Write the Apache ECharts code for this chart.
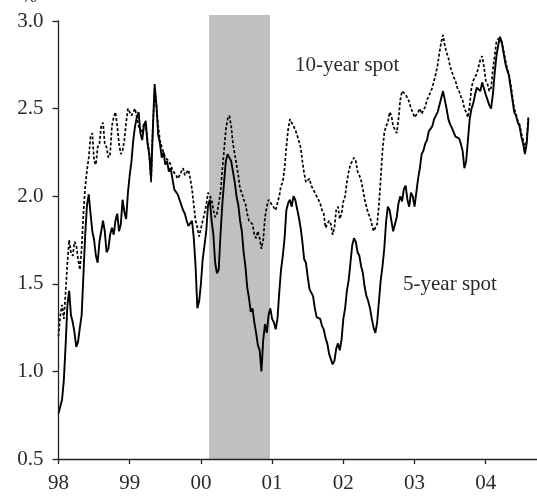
<!DOCTYPE html>
<html>
<head>
<meta charset="utf-8">
<script src="https://cdn.jsdelivr.net/npm/echarts@6/dist/echarts.min.js"></script>
<style>
html,body{margin:0;padding:0;background:#fff;}
#c{width:537px;height:499px;}
</style>
</head>
<body>
<div id="c"></div>
<script>
// Decimal-year dates of the observations
const dates = [
1998.000,1998.025,1998.050,1998.075,1998.100,1998.125,1998.150,1998.175,
1998.200,1998.225,1998.250,1998.275,1998.300,1998.325,1998.350,1998.375,
1998.400,1998.425,1998.450,1998.475,1998.500,1998.525,1998.550,1998.575,
1998.600,1998.625,1998.650,1998.675,1998.700,1998.725,1998.750,1998.775,
1998.800,1998.825,1998.850,1998.875,1998.900,1998.925,1998.950,1998.975,
1999.000,1999.025,1999.050,1999.075,1999.100,1999.125,1999.150,1999.175,
1999.200,1999.225,1999.250,1999.275,1999.300,1999.325,1999.350,1999.375,
1999.400,1999.425,1999.450,1999.475,1999.500,1999.525,1999.550,1999.575,
1999.600,1999.625,1999.650,1999.675,1999.700,1999.725,1999.750,1999.775,
1999.800,1999.825,1999.850,1999.875,1999.900,1999.925,1999.950,1999.975,
2000.000,2000.025,2000.050,2000.075,2000.100,2000.125,2000.150,2000.175,
2000.200,2000.225,2000.250,2000.275,2000.300,2000.325,2000.350,2000.375,
2000.400,2000.425,2000.450,2000.475,2000.500,2000.525,2000.550,2000.575,
2000.600,2000.625,2000.650,2000.675,2000.700,2000.725,2000.750,2000.775,
2000.800,2000.825,2000.850,2000.875,2000.900,2000.925,2000.950,2000.975,
2001.000,2001.025,2001.050,2001.075,2001.100,2001.125,2001.150,2001.175,
2001.200,2001.225,2001.250,2001.275,2001.300,2001.325,2001.350,2001.375,
2001.400,2001.425,2001.450,2001.475,2001.500,2001.525,2001.550,2001.575,
2001.600,2001.625,2001.650,2001.675,2001.700,2001.725,2001.750,2001.775,
2001.800,2001.825,2001.850,2001.875,2001.900,2001.925,2001.950,2001.975,
2002.000,2002.025,2002.050,2002.075,2002.100,2002.125,2002.150,2002.175,
2002.200,2002.225,2002.250,2002.275,2002.300,2002.325,2002.350,2002.375,
2002.400,2002.425,2002.450,2002.475,2002.500,2002.525,2002.550,2002.575,
2002.600,2002.625,2002.650,2002.675,2002.700,2002.725,2002.750,2002.775,
2002.800,2002.825,2002.850,2002.875,2002.900,2002.925,2002.950,2002.975,
2003.000,2003.025,2003.050,2003.075,2003.100,2003.125,2003.150,2003.175,
2003.200,2003.225,2003.250,2003.275,2003.300,2003.325,2003.350,2003.375,
2003.400,2003.425,2003.450,2003.475,2003.500,2003.525,2003.550,2003.575,
2003.600,2003.625,2003.650,2003.675,2003.700,2003.725,2003.750,2003.775,
2003.800,2003.825,2003.850,2003.875,2003.900,2003.925,2003.950,2003.975,
2004.000,2004.025,2004.050,2004.075,2004.100,2004.125,2004.150,2004.175,
2004.200,2004.225,2004.250,2004.275,2004.300,2004.325,2004.350,2004.375,
2004.400,2004.425,2004.450,2004.475,2004.500,2004.525,2004.550,2004.575,
2004.600
];
// 5-year spot (solid), %
const spot5 = [
0.76,0.80,0.84,0.95,1.15,1.38,1.46,1.32,
1.28,1.22,1.14,1.17,1.25,1.32,1.55,1.78,
1.95,2.01,1.90,1.80,1.75,1.66,1.62,1.74,
1.80,1.86,1.80,1.68,1.70,1.78,1.82,1.78,
1.86,1.90,1.80,1.84,1.98,1.91,1.87,2.02,
2.12,2.20,2.32,2.40,2.45,2.48,2.36,2.32,
2.40,2.43,2.30,2.24,2.10,2.38,2.64,2.52,
2.35,2.30,2.22,2.25,2.18,2.20,2.14,2.16,
2.10,2.04,2.03,2.01,1.98,1.97,1.92,1.90,
1.86,1.83,1.84,1.86,1.76,1.60,1.36,1.40,
1.50,1.64,1.72,1.80,1.95,1.98,1.86,1.78,
1.62,1.56,1.58,1.78,1.95,2.08,2.20,2.24,
2.22,2.20,2.14,2.08,2.00,1.95,1.86,1.80,
1.68,1.60,1.48,1.42,1.34,1.36,1.28,1.22,
1.15,1.12,1.00,1.18,1.27,1.22,1.32,1.36,
1.30,1.28,1.24,1.30,1.45,1.58,1.66,1.76,
1.92,1.96,1.98,1.94,2.00,1.98,1.93,1.88,
1.82,1.74,1.64,1.62,1.54,1.47,1.45,1.43,
1.36,1.31,1.30,1.30,1.26,1.24,1.19,1.16,
1.10,1.09,1.04,1.06,1.13,1.16,1.12,1.18,
1.30,1.36,1.46,1.52,1.62,1.72,1.76,1.74,
1.68,1.66,1.60,1.56,1.48,1.43,1.40,1.36,
1.30,1.25,1.22,1.28,1.40,1.52,1.60,1.70,
1.85,1.94,1.92,1.86,1.80,1.80,1.88,1.96,
2.00,1.97,2.04,2.06,1.98,1.94,2.02,2.00,
1.94,2.02,2.10,2.16,2.24,2.26,2.30,2.32,
2.37,2.36,2.40,2.44,2.46,2.48,2.52,2.56,
2.60,2.55,2.50,2.44,2.41,2.39,2.38,2.34,
2.35,2.33,2.30,2.26,2.16,2.20,2.32,2.44,
2.50,2.53,2.58,2.62,2.63,2.60,2.65,2.64,
2.58,2.55,2.52,2.50,2.58,2.70,2.80,2.86,
2.91,2.88,2.82,2.76,2.72,2.69,2.62,2.55,
2.48,2.46,2.42,2.40,2.34,2.30,2.24,2.30,
2.44
];
// 10-year spot (dashed), %
const spot10 = [
1.20,1.32,1.38,1.30,1.45,1.62,1.75,1.68,
1.66,1.74,1.72,1.64,1.58,1.70,1.90,2.05,
2.15,2.22,2.34,2.36,2.20,2.18,2.28,2.30,
2.40,2.42,2.30,2.28,2.22,2.24,2.40,2.45,
2.48,2.40,2.30,2.24,2.26,2.32,2.42,2.50,
2.50,2.46,2.48,2.50,2.45,2.40,2.38,2.36,
2.42,2.40,2.32,2.24,2.08,2.40,2.60,2.52,
2.40,2.32,2.28,2.25,2.22,2.23,2.20,2.18,
2.15,2.16,2.12,2.10,2.10,2.14,2.16,2.12,
2.13,2.15,2.10,2.04,1.95,1.86,1.82,1.77,
1.78,1.86,1.90,1.95,2.02,2.03,1.98,1.92,
1.88,1.90,1.96,2.02,2.15,2.26,2.38,2.44,
2.46,2.40,2.30,2.24,2.18,2.12,2.04,2.02,
1.98,1.96,1.90,1.86,1.86,1.84,1.78,1.76,
1.80,1.76,1.70,1.75,1.88,1.94,1.98,1.98,
1.95,1.96,1.92,1.92,2.00,2.06,2.08,2.16,
2.28,2.38,2.44,2.44,2.40,2.38,2.35,2.34,
2.28,2.20,2.13,2.08,2.07,2.10,2.06,2.04,
2.02,2.03,1.98,1.96,1.92,1.90,1.82,1.83,
1.86,1.84,1.78,1.82,1.92,1.94,1.87,1.90,
1.97,2.00,2.08,2.14,2.18,2.20,2.22,2.20,
2.14,2.12,2.09,2.04,1.98,1.94,1.90,1.88,
1.84,1.80,1.80,1.84,1.95,2.10,2.26,2.36,
2.40,2.42,2.48,2.46,2.40,2.40,2.36,2.44,
2.55,2.60,2.61,2.58,2.57,2.54,2.50,2.48,
2.45,2.44,2.48,2.50,2.47,2.48,2.51,2.55,
2.57,2.58,2.62,2.66,2.70,2.75,2.82,2.88,
2.92,2.86,2.82,2.79,2.74,2.71,2.68,2.66,
2.62,2.60,2.57,2.55,2.50,2.48,2.45,2.52,
2.62,2.66,2.68,2.70,2.74,2.78,2.80,2.74,
2.66,2.64,2.60,2.62,2.72,2.80,2.88,2.90,
2.91,2.88,2.83,2.78,2.73,2.70,2.64,2.57,
2.50,2.47,2.43,2.41,2.36,2.32,2.27,2.32,
2.46
];
// Shaded period (start, end) in decimal years
const shadeStart = 2000.115;
const shadeEnd = 2000.97;
const xTicks = [1998,1999,2000,2001,2002,2003,2004];
const yMin = 0.5, yMax = 3.0, yStep = 0.5;

const FONT = "'Liberation Serif','Times New Roman',serif";
const TXT = '#2a2a2a';

const chart = echarts.init(document.getElementById('c'), null, {renderer:'canvas'});
const pair = (a) => dates.map((d,i) => [d, a[i]]);

chart.setOption({
  animation: false,
  backgroundColor: '#fff',
  grid: [
    {left: 58.5, right: 0, top: 21, bottom: 40, outerBoundsMode: 'none'},
    {left: 58.5, right: 0, top: 15, bottom: 40, outerBoundsMode: 'none'}
  ],
  xAxis: [{
    type: 'value', gridIndex: 0, min: 1998, max: 2004.72, z: 5,
    axisLine: {show: true, lineStyle: {color: '#222', width: 1.3}},
    axisTick: {show: true, inside: false, length: 5, customValues: xTicks, lineStyle: {color: '#222', width: 1.3}},
    axisLabel: {customValues: xTicks, margin: 14, color: TXT, fontFamily: FONT, fontSize: 21,
      formatter: v => String(Math.round(v) % 100).padStart(2, '0')},
    splitLine: {show: false}
  }, {
    type: 'value', gridIndex: 1, min: 1998, max: 2004.72, show: false
  }],
  yAxis: [{
    type: 'value', gridIndex: 0, min: yMin, max: yMax, interval: yStep, z: 5,
    axisLine: {show: true, lineStyle: {color: '#222', width: 1.3}},
    axisTick: {show: true, inside: false, length: 6, lineStyle: {color: '#222', width: 1.3}},
    axisLabel: {margin: 15, color: TXT, fontFamily: FONT, fontSize: 21, formatter: v => v.toFixed(1)},
    splitLine: {show: false}
  }, {
    type: 'value', gridIndex: 1, min: 0, max: 1, show: false
  }],
  series: [{
    type: 'custom', xAxisIndex: 1, yAxisIndex: 1, z: 1, silent: true,
    data: [[shadeStart, shadeEnd, 0, 1]],
    encode: {x: [0, 1], y: [2, 3]},
    renderItem: (params, api) => {
      const p0 = api.coord([api.value(0), api.value(3)]);
      const p1 = api.coord([api.value(1), api.value(2)]);
      return {type: 'rect', shape: {x: p0[0], y: p0[1], width: p1[0] - p0[0], height: p1[1] - p0[1]},
        style: {fill: '#c0c0c0'}};
    }
  }, {
    name: '10-year spot', type: 'line', xAxisIndex: 0, yAxisIndex: 0, z: 3,
    data: pair(spot10), showSymbol: false, symbol: 'none',
    lineStyle: {color: '#000', width: 1.7, type: [3, 2]}
  }, {
    name: '5-year spot', type: 'line', xAxisIndex: 0, yAxisIndex: 0, z: 4,
    data: pair(spot5), showSymbol: false, symbol: 'none',
    lineStyle: {color: '#000', width: 1.9}
  }],
  graphic: [
    {type: 'text', left: 295, top: 55, style: {text: '10-year spot', fill: TXT, font: "21px " + FONT}},
    {type: 'text', left: 403, top: 274, style: {text: '5-year spot', fill: TXT, font: "21px " + FONT}},
    {type: 'text', left: 22, top: -12, style: {text: '%', fill: TXT, font: "18px " + FONT}}
  ]
});
</script>
</body>
</html>
